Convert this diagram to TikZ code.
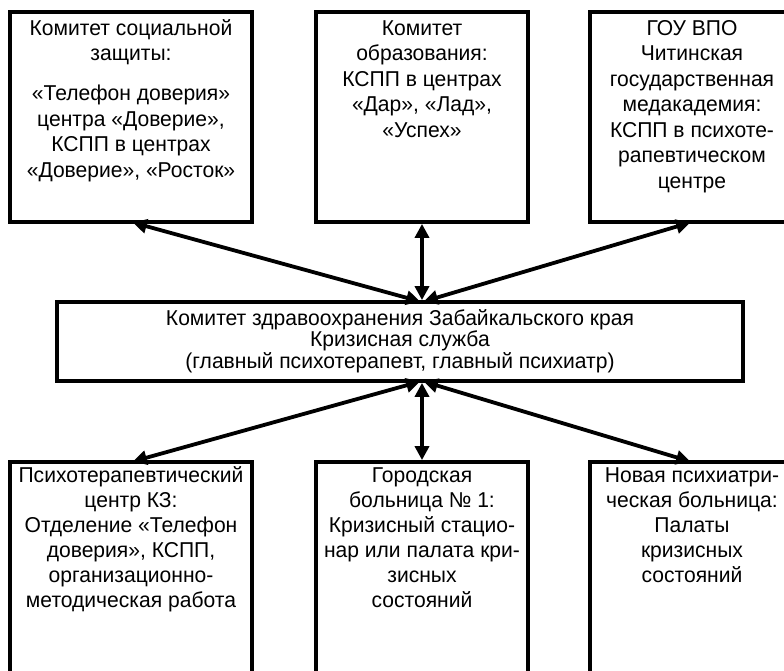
\documentclass[tikz,border=0pt]{standalone}
\usepackage{fontspec}
\setmainfont[FakeStretch=0.98]{Liberation Sans}
\usetikzlibrary{arrows.meta, positioning, calc}

\newcommand\firststrut{\rule{0pt}{20pt}}

\tikzset{
  panel/.style={draw, line width=3.8pt, anchor=north west, inner sep=0pt, outer sep=0pt},
  txt/.style={align=center, inner sep=0pt, font=\fontsize{21.5}{25.5}\selectfont},
  link/.style={line width=3.8pt, shorten <=1.9pt, shorten >=1.9pt,
    {Triangle[length=14pt,width=14pt]}-{Triangle[length=14pt,width=14pt]}}
}

\begin{document}
\begin{tikzpicture}[x=1pt, y=-1pt]
    \useasboundingbox (0,0) rectangle (784,670);
    \clip (0,0) rectangle (784,670);

    \node[panel, minimum width=242pt, minimum height=210pt] (soc) at (10,12) {};
    \node[panel, minimum width=212pt, minimum height=210pt] (edu) at (316,12) {};
    \node[panel, minimum width=204pt, minimum height=210pt] (med) at (590,12) {};

    \node[txt, below=3pt of soc.north] (soctext)
      {\firststrut Комитет социальной\\ защиты:\\[14.5pt] «Телефон доверия»\\ центра «Доверие»,\\ КСПП в центрах\\ «Доверие», «Росток»};
    \node[txt, below=3pt of edu.north] (edutext)
      {\firststrut Комитет\\ образования:\\ КСПП в центрах\\ «Дар», «Лад»,\\ «Успех»};
    \node[txt, below=3pt of med.north] (medtext)
      {\firststrut ГОУ ВПО\\ Читинская\\ государственная\\ медакадемия:\\ КСПП в психоте-\\ рапевтическом\\ центре};

    \node[panel, minimum width=686pt, minimum height=79pt] (health) at (57,302) {};
    \node[txt, below=3pt of health.north, font=\fontsize{21.5}{21.5}\selectfont] (healthtext)
      {\firststrut Комитет здравоохранения Забайкальского края\\ Кризисная служба\\ (главный психотерапевт, главный психиатр)};

    \node[panel, minimum width=242pt, minimum height=250pt] (psy) at (10,462) {};
    \node[panel, minimum width=212pt, minimum height=250pt] (city) at (316,462) {};
    \node[panel, minimum width=204pt, minimum height=250pt] (newhosp) at (590,462) {};

    \node[txt, below=0pt of psy.north, font=\fontsize{21.5}{25}\selectfont] (psytext)
      {\firststrut Психотерапевтический\\ центр КЗ:\\ Отделение «Телефон\\ доверия», КСПП,\\ организационно-\\ методическая работа};
    \node[txt, below=0pt of city.north, font=\fontsize{21.5}{25}\selectfont] (citytext)
      {\firststrut Городская\\ больница № 1:\\ Кризисный стацио-\\ нар или палата кри-\\ зисных\\ состояний};
    \node[txt, below=0pt of newhosp.north, font=\fontsize{21.5}{25}\selectfont] (newhosptext)
      {\firststrut Новая психиатри-\\ ческая больница:\\ Палаты\\ кризисных\\ состояний};

    \coordinate (hubup) at (edu.south |- health.north);
    \coordinate (hubdown) at (edu.south |- health.south);

    \draw[link] (hubup) -- (soc.south);
    \draw[link] (hubup) -- (edu.south);
    \draw[link] (hubup) -- (med.south);
    \draw[link] (hubdown) -- (psy.north);
    \draw[link] (hubdown) -- (city.north);
    \draw[link] (hubdown) -- (newhosp.north);
\end{tikzpicture}
\end{document}
